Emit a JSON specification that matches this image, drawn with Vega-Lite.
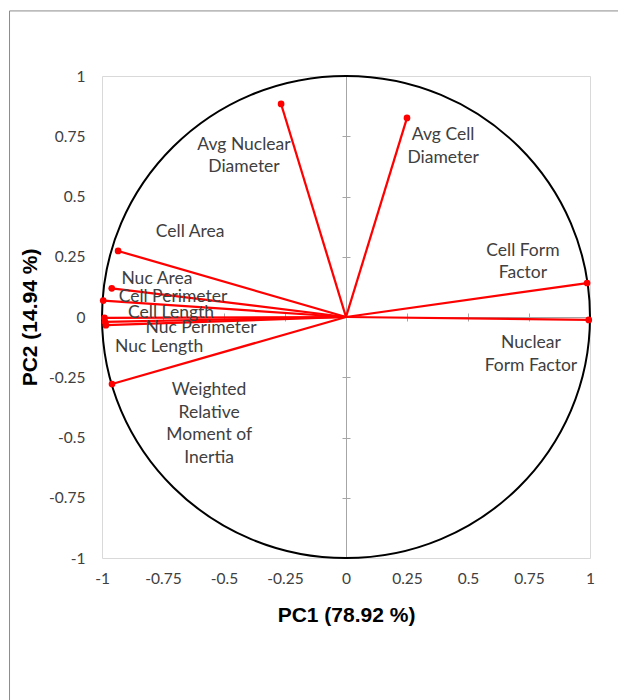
{
  "$schema": "https://vega.github.io/schema/vega-lite/v6.json",
  "width": 488,
  "height": 482,
  "autosize": "none",
  "padding": {"left": 102, "top": 76, "right": 28, "bottom": 142},
  "background": "white",
  "config": {
    "view": {"stroke": "#d9d9d9", "strokeWidth": 1},
    "font": "Lato"
  },
  "datasets": {
    "loadings": [
      {"variable": "Avg Nuclear Diameter", "PC1": -0.266, "PC2": 0.884},
      {"variable": "Avg Cell Diameter", "PC1": 0.25, "PC2": 0.826},
      {"variable": "Cell Form Factor", "PC1": 0.988, "PC2": 0.141},
      {"variable": "Nuclear Form Factor", "PC1": 0.995, "PC2": -0.012},
      {"variable": "Cell Area", "PC1": -0.934, "PC2": 0.274},
      {"variable": "Nuc Area", "PC1": -0.96, "PC2": 0.119},
      {"variable": "Cell Perimeter", "PC1": -0.995, "PC2": 0.068},
      {"variable": "Cell Length", "PC1": -0.99, "PC2": -0.004},
      {"variable": "Nuc Perimeter", "PC1": -0.988, "PC2": -0.02},
      {"variable": "Nuc Length", "PC1": -0.984, "PC2": -0.034},
      {"variable": "Weighted Relative Moment of Inertia", "PC1": -0.959, "PC2": -0.278}
    ],
    "labels": [
      {"label": "Avg Nuclear\nDiameter", "lx": -0.418, "ly": 0.714},
      {"label": "Avg Cell\nDiameter", "lx": 0.398, "ly": 0.755},
      {"label": "Cell Area", "lx": -0.639, "ly": 0.353},
      {"label": "Cell Form\nFactor", "lx": 0.725, "ly": 0.274},
      {"label": "Nuc Area", "lx": -0.775, "ly": 0.158},
      {"label": "Cell Perimeter", "lx": -0.709, "ly": 0.083},
      {"label": "Cell Length", "lx": -0.717, "ly": 0.017},
      {"label": "Nuc Perimeter", "lx": -0.594, "ly": -0.046},
      {"label": "Nuc Length", "lx": -0.766, "ly": -0.124},
      {"label": "Nuclear\nForm Factor", "lx": 0.758, "ly": -0.108},
      {"label": "Weighted\nRelative\nMoment of\nInertia", "lx": -0.561, "ly": -0.303}
    ]
  },
  "layer": [
    {
      "data": {"values": [{"frame": "chart area"}]},
      "mark": {"type": "rect", "fill": null, "stroke": "#8c8c8c", "strokeWidth": 1, "clip": false},
      "encoding": {
        "x": {"datum": -1.379, "type": "quantitative", "axis": null},
        "x2": {"datum": 2.5},
        "y": {"datum": 1.27, "type": "quantitative", "axis": null},
        "y2": {"datum": -2.0}
      }
    },
    {
      "data": {"values": [{"circle": "unit"}]},
      "mark": {
        "type": "point",
        "shape": "M-1,0A1,0.988,0,1,1,1,0A1,0.988,0,1,1,-1,0Z",
        "size": 238144,
        "filled": false,
        "stroke": "black",
        "strokeWidth": 2,
        "opacity": 1
      },
      "encoding": {
        "x": {
          "datum": 0,
          "type": "quantitative",
          "scale": {"domain": [-1, 1], "nice": false, "zero": false},
          "axis": {
            "orient": "bottom",
            "values": [-1, -0.75, -0.5, -0.25, 0, 0.25, 0.5, 0.75, 1],
            "labelExpr": "toString(datum.value)",
            "domain": false,
            "ticks": false,
            "grid": true,
            "gridColor": "#a6a6a6",
            "gridWidth": 1,
            "gridOpacity": {"condition": {"test": "datum.value === 0", "value": 1}, "value": 0},
            "labelFlush": false,
            "labelOverlap": false,
            "labelFont": "Lato",
            "labelFontSize": 15.5,
            "labelColor": "#404040",
            "labelPadding": 13,
            "title": "PC1 (78.92 %)",
            "titleFont": "Liberation Sans",
            "titleFontSize": 21,
            "titleFontWeight": "bold",
            "titleColor": "#000000",
            "titleY": 57,
            "titleBaseline": "middle"
          }
        },
        "y": {
          "datum": 0,
          "type": "quantitative",
          "scale": {"domain": [-1, 1], "nice": false, "zero": false},
          "axis": {
            "orient": "left",
            "values": [-1, -0.75, -0.5, -0.25, 0, 0.25, 0.5, 0.75, 1],
            "labelExpr": "toString(datum.value)",
            "domain": false,
            "ticks": false,
            "grid": true,
            "gridColor": "#a6a6a6",
            "gridWidth": 1,
            "gridOpacity": {"condition": {"test": "datum.value === 0", "value": 1}, "value": 0},
            "labelFlush": false,
            "labelOverlap": false,
            "labelFont": "Lato",
            "labelFontSize": 15.5,
            "labelColor": "#404040",
            "labelPadding": 17,
            "title": "PC2 (14.94 %)",
            "titleFont": "Liberation Sans",
            "titleFontSize": 21,
            "titleFontWeight": "bold",
            "titleColor": "#000000",
            "titleX": -72,
            "titleBaseline": "middle"
          }
        }
      }
    },
    {
      "data": {"name": "loadings"},
      "mark": {"type": "rule", "color": "#ff0000", "strokeWidth": 2.25},
      "encoding": {
        "x": {
          "field": "PC1",
          "type": "quantitative",
          "axis": {
            "orient": "top",
            "offset": -245,
            "values": [-1, -0.75, -0.5, -0.25, 0, 0.25, 0.5, 0.75, 1],
            "labels": false,
            "domain": false,
            "ticks": true,
            "tickSize": 8,
            "tickColor": "#a6a6a6",
            "tickWidth": 1,
            "grid": false,
            "title": null
          }
        },
        "x2": {"datum": 0},
        "y": {
          "field": "PC2",
          "type": "quantitative",
          "axis": {
            "orient": "right",
            "offset": -248,
            "values": [-1, -0.75, -0.5, -0.25, 0, 0.25, 0.5, 0.75, 1],
            "labels": false,
            "domain": false,
            "ticks": true,
            "tickSize": 8,
            "tickColor": "#a6a6a6",
            "tickWidth": 1,
            "grid": false,
            "title": null
          }
        },
        "y2": {"datum": 0}
      }
    },
    {
      "data": {"name": "loadings"},
      "mark": {"type": "point", "filled": true, "color": "#ff0000", "size": 45, "opacity": 1},
      "encoding": {
        "x": {"field": "PC1", "type": "quantitative", "axis": null},
        "y": {"field": "PC2", "type": "quantitative", "axis": null}
      }
    },
    {
      "data": {"name": "labels"},
      "mark": {
        "type": "text",
        "font": "Lato",
        "fontSize": 17.5,
        "color": "#404040",
        "align": "center",
        "baseline": "middle",
        "lineBreak": "\n",
        "lineHeight": 22.5
      },
      "encoding": {
        "x": {"field": "lx", "type": "quantitative", "axis": null},
        "y": {"field": "ly", "type": "quantitative", "axis": null},
        "text": {"field": "label"}
      }
    }
  ],
  "resolve": {"axis": {"x": "independent", "y": "independent"}}
}
